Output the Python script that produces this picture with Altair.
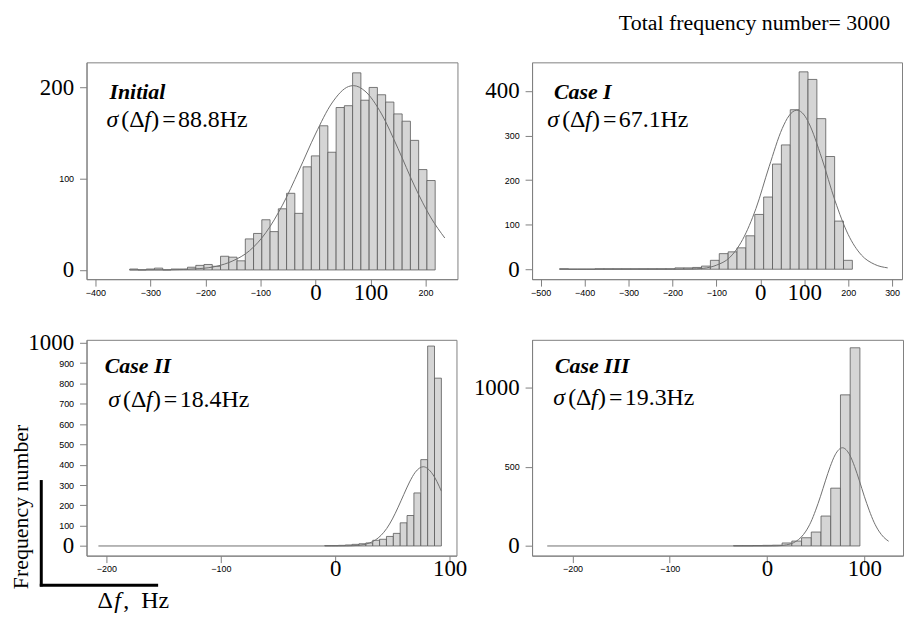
import altair as alt
import pandas as pd

# ---------------- data ----------------
total_n = 3000

# Initial
p1_bin_start, p1_bin_width = -337.5, 15
p1_counts = [1, 0, 1, 2, 0, 1, 1, 3, 5, 6, 4, 15, 14, 10, 34, 40, 55, 42, 67, 84,
             62, 113, 125, 158, 129, 178, 180, 216, 186, 200, 192, 184, 171, 163, 142, 110, 98]
p1_curve_x = [-338, -270, -210, -180, -150, -120, -90, -60, -30, 0, 30, 60, 69, 90, 120, 150, 180, 210, 235]
p1_curve_y = [0, 0.1, 1.5, 4, 10, 21, 41, 71, 109, 149, 183, 201, 202, 196, 171, 133, 92, 57, 35]

# Case I
p2_bin_start, p2_bin_width = -457, 20.2
p2_counts = [1, 0, 0, 0, 1, 1, 1, 1, 1, 1, 1, 1, 1, 3, 3, 4, 7,
             20, 35, 39, 48, 75, 123, 162, 236, 279, 358, 443, 426, 338, 253, 108, 20]
p2_curve_x = [-457, -200, -160, -130, -100, -70, -40, -10, 20, 50, 65, 83, 100, 110, 140, 170, 200, 230, 260, 290]
p2_curve_y = [0, 0, 0.5, 2, 9, 26, 67, 136, 230, 316, 344, 357, 346, 329, 249, 154, 78, 32, 11, 3]

# Case II
p3_bin_start, p3_bin_width = -9.2, 6
p3_counts = [2, 2, 3, 5, 8, 11, 15, 28, 33, 47, 62, 114, 150, 261, 425, 984, 826]
p3_curve_x = [-207, 0, 10, 20, 25, 30, 35, 40, 45, 50, 55, 60, 65, 70, 77, 85, 92.8]
p3_curve_y = [0, 0, 0.5, 3, 7, 15, 29, 52, 86, 133, 191, 254, 315, 363, 390, 355, 270]

# Case III
p4_bin_start, p4_bin_width = -34.5, 10
p4_counts = [2, 2, 3, 4, 5, 19, 31, 52, 88, 189, 365, 954, 1251]
p4_curve_x = [-226, 0, 10, 20, 30, 35, 40, 45, 50, 55, 60, 65, 70, 77.5, 85, 90, 95, 100, 105, 110, 115, 120, 125]
p4_curve_y = [0, 0, 1, 7, 30, 55, 94, 150, 226, 314, 411, 502, 575, 620, 575, 502, 411, 314, 226, 150, 94, 55, 30]

case_names = ["Initial", "Case I", "Case II", "Case III"]
sigma_values = ["88.8Hz", "67.1Hz", "18.4Hz", "19.3Hz"]

p1_xticks = [-400, -300, -200, -100, 0, 100, 200]
p2_xticks = [-500, -400, -300, -200, -100, 0, 100, 200, 300]
p3_xticks = [-200, -100, 0, 100]
p4_xticks = [-200, -100, 0, 100]
p1_yticks = [0, 100, 200]
p2_yticks = [0, 100, 200, 300, 400]
p3_yticks = [0, 100, 200, 300, 400, 500, 600, 700, 800, 900, 1000]
p4_yticks = [0, 500, 1000]

GRAY = "#808080"
SERIF = "Liberation Serif"
SANS = "Liberation Sans"


def make_axis(vals, big_test):
    return alt.Axis(
        values=vals, title=None, grid=False, format="d",
        domainColor=GRAY, tickColor=GRAY, tickSize=7, tickWidth=1,
        labelColor="black", labelPadding=6, labelOverlap=False, labelFlush=False,
        labelBaseline="middle",
        labelFont={"condition": {"test": big_test, "value": SERIF}, "value": SANS},
        labelFontSize={"condition": {"test": big_test, "value": 23}, "value": 9},
    )


def panel(counts, start, width, cx, cy, xdom, ydom, xvals, yvals, ybig,
          name, sigma, name_xy, sigma_xy, w, h, extra=()):
    edges = [start + width * i for i in range(len(counts) + 1)]
    bars = pd.DataFrame({"x": edges[:-1], "x2": edges[1:], "y": counts})
    curve = pd.DataFrame({"x": cx, "y": cy})
    xs = alt.Scale(domain=xdom, nice=False, zero=False)
    ys = alt.Scale(domain=ydom, nice=False, zero=False)
    xa = make_axis(xvals, "datum.value == 0 || datum.value == 100")
    ya = make_axis(yvals, f"datum.value == 0 || datum.value == {ybig}")

    X = lambda f: alt.X(f, scale=xs, axis=xa)
    Y = lambda f: alt.Y(f, scale=ys, axis=ya)

    b = alt.Chart(bars).mark_rect(fill="#d5d5d5", stroke="#5a5a5a", strokeWidth=0.8).encode(
        x=X("x:Q"), x2="x2:Q", y=Y("y:Q"), y2=alt.datum(0))
    l = alt.Chart(curve).mark_line(color="#707070", strokeWidth=1, interpolate="monotone").encode(
        x=X("x:Q"), y=Y("y:Q"))

    def txt(x, y, t, size, style="normal", weight="normal", dx=0):
        return alt.Chart(pd.DataFrame({"x": [x], "y": [y], "t": [t]})).mark_text(
            align="left", baseline="alphabetic", font=SERIF, fontSize=size,
            fontStyle=style, fontWeight=weight, dx=dx, color="black").encode(
            x=X("x:Q"), y=Y("y:Q"), text="t:N")

    layers = [b, l,
              txt(name_xy[0], name_xy[1], name, 22, "italic", "bold"),
              txt(sigma_xy[0], sigma_xy[1], "σ", 24, "italic"),
              txt(sigma_xy[0], sigma_xy[1], "(Δ", 24, dx=15),
              txt(sigma_xy[0], sigma_xy[1], "f", 24, "italic", dx=38),
              txt(sigma_xy[0], sigma_xy[1], ")", 24, dx=45),
              txt(sigma_xy[0], sigma_xy[1], "=", 24, dx=56),
              txt(sigma_xy[0], sigma_xy[1], sigma, 24, dx=72)]
    layers += list(extra)
    return alt.layer(*layers).properties(width=w, height=h)


def ptext(t, x, y, size, style="normal", align="left", angle=0):
    return alt.Chart(pd.DataFrame({"t": [t]})).mark_text(
        align=align, baseline="alphabetic", font=SERIF, fontSize=size,
        fontStyle=style, angle=angle, color="black").encode(
        x=alt.value(x), y=alt.value(y), text="t:N")


dummy = pd.DataFrame({"a": [0]})
total_layer = ptext(f"Total frequency number= {total_n}", 360, -33, 22, align="right")

ind_layers = [
    ptext("Frequency number", -58.7, 168, 22, angle=270, align="center"),
    alt.Chart(dummy).mark_rule(color="black", strokeWidth=3).encode(
        x=alt.value(-45.5), y=alt.value(141), y2=alt.value(248)),
    alt.Chart(dummy).mark_rule(color="black", strokeWidth=3).encode(
        x=alt.value(-47), x2=alt.value(72), y=alt.value(246.7)),
    ptext("Δ", 11, 270, 24),
    ptext("f", 28, 270, 24, style="italic"),
    ptext(",", 37, 270, 24),
    ptext("Hz", 55, 270, 24),
]

p1 = panel(p1_counts, p1_bin_start, p1_bin_width, p1_curve_x, p1_curve_y,
           [-416, 258], [-10.1, 227.5], p1_xticks, p1_yticks, 200,
           case_names[0], sigma_values[0], (-374.4, 187), (-379.8, 156.6), 373, 218)
p2 = panel(p2_counts, p2_bin_start, p2_bin_width, p2_curve_x, p2_curve_y,
           [-519.6, 322.6], [-22.3, 464.3], p2_xticks, p2_yticks, 400,
           case_names[1], sigma_values[1], (-469.8, 381.7), (-485, 318.5), 372, 218,
           extra=[total_layer])
p3 = panel(p3_counts, p3_bin_start, p3_bin_width, p3_curve_x, p3_curve_y,
           [-217.4, 106], [-47.5, 1014.7], p3_xticks, p3_yticks, 1000,
           case_names[2], sigma_values[2], (-201.5, 849.7), (-198.5, 681.8), 372, 217,
           extra=ind_layers)
p4 = panel(p4_counts, p4_bin_start, p4_bin_width, p4_curve_x, p4_curve_y,
           [-241.6, 139.8], [-60.9, 1301.3], p4_xticks, p4_yticks, 1000,
           case_names[3], sigma_values[3], (-218.1, 1089.8), (-219.8, 887), 373, 217)

chart = alt.concat(p1, p2, p3, p4, columns=2, spacing={"row": 61, "column": 75},
                   bounds="flush").configure_view(
    stroke=GRAY, strokeWidth=1).properties(
    padding={"left": 9, "top": 9, "right": 0, "bottom": 0}, background="white")

chart.save("out.html", embed_options={"renderer": "svg", "actions": False})
